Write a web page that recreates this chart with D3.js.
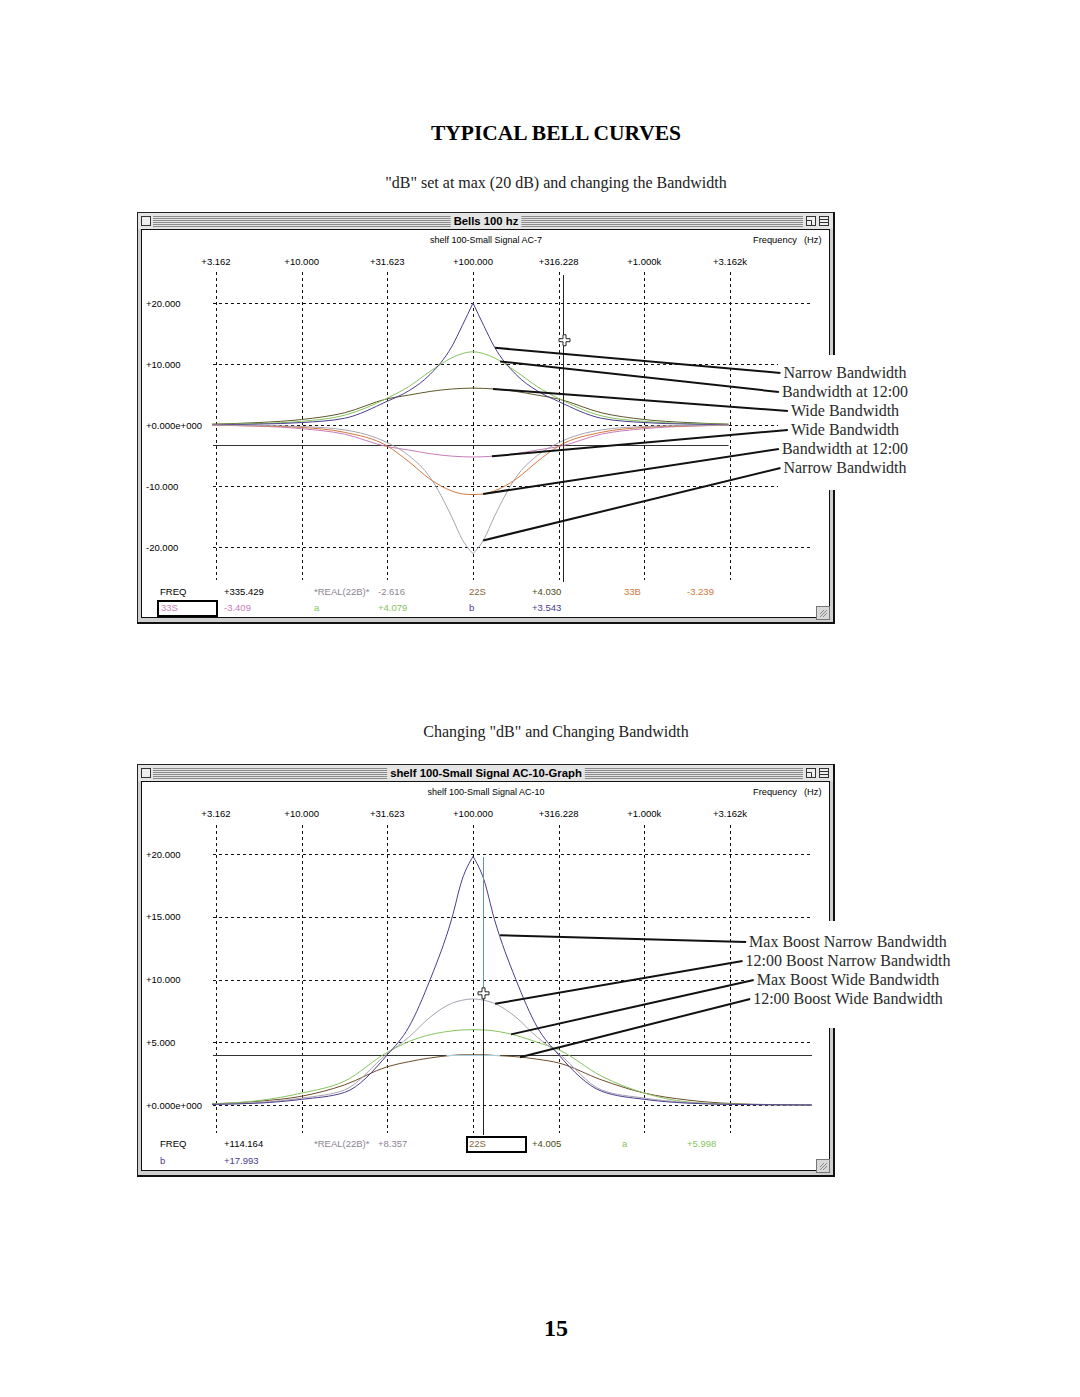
<!DOCTYPE html>
<html><head><meta charset="utf-8">
<script src="https://cdn.jsdelivr.net/npm/d3@7"></script>
<style>body{margin:0;background:#fff} svg{display:block}</style>
</head><body>
<svg id="c" width="1080" height="1397"></svg>
<script>
// ---------------- DATA ----------------
const pageTitle = "TYPICAL BELL CURVES";
const topCaption = "\"dB\" set at max (20 dB) and changing the Bandwidth";
const botCaption = "Changing \"dB\" and Changing Bandwidth";
const pageNumber = "15";

const tickFreqs = [3.162, 10, 31.623, 100, 316.228, 1000, 3162.278];
const tickLabels = ["+3.162", "+10.000", "+31.623", "+100.000", "+316.228", "+1.000k", "+3.162k"];

const topDbTicks = [20, 10, 0, -10, -20];
const topDbLabels = ["+20.000", "+10.000", "+0.000e+000", "-10.000", "-20.000"];
const botDbTicks = [20, 15, 10, 5, 0];
const botDbLabels = ["+20.000", "+15.000", "+10.000", "+5.000", "+0.000e+000"];

// top chart: frequencies (Hz) and dB values
const topFreqs = [3.0, 5.623, 10, 17.78, 31.62, 42.17, 56.23, 74.99, 86.60, 100, 115.48, 133.35, 177.83, 237.14, 316.23, 562.34, 1000, 1778.28, 3100];
const topNarrowBoost = [0.05, 0.15, 0.4, 1.1, 3.9, 5.6, 8.3, 12.8, 16.3, 20.0, 16.3, 12.8, 8.3, 5.6, 3.85, 1.1, 0.4, 0.15, 0.05];
const topMidBoost    = [0.1, 0.25, 0.6, 1.6, 4.4, 6.3, 8.8, 11.0, 11.7, 12.0, 11.7, 11.0, 8.8, 6.3, 4.35, 1.5, 0.6, 0.25, 0.1];
const topWideBoost   = [0.15, 0.4, 0.9, 2.0, 4.3, 4.9, 5.5, 5.9, 6.0, 6.05, 6.0, 5.9, 5.5, 4.9, 4.25, 2.0, 0.9, 0.4, 0.15];
const topWideCut     = [-0.05, -0.2, -0.6, -1.5, -3.55, -4.1, -4.7, -5.1, -5.2, -5.25, -5.2, -5.1, -4.7, -4.1, -3.55, -1.5, -0.6, -0.2, -0.05];
const topMidCut      = [-0.05, -0.15, -0.4, -1.2, -3.45, -6.0, -8.9, -10.8, -11.3, -11.4, -11.3, -10.8, -8.9, -6.0, -3.45, -1.2, -0.4, -0.15, -0.05];
const topNarrowCut   = [-0.02, -0.08, -0.25, -0.8, -2.9, -5.0, -8.6, -15.0, -18.8, -21.1, -18.8, -15.0, -8.6, -5.0, -2.9, -0.8, -0.25, -0.08, -0.02];

// bottom chart
const botFreqs = [3.0, 5.623, 10, 17.78, 31.62, 42.17, 56.23, 74.99, 86.60, 100, 115.48, 133.35, 177.83, 237.14, 316.23, 562.34, 1000, 1778.28, 3162.28, 5623.4, 9500];
const botMaxNarrow = [0.05, 0.15, 0.45, 1.0, 4.0, 6.2, 10.0, 14.8, 18.0, 19.8, 18.0, 14.8, 10.0, 6.2, 4.0, 1.1, 0.45, 0.15, 0.05, 0.02, 0.0];
const botMidNarrow = [0.05, 0.2, 0.55, 1.2, 4.1, 5.4, 7.0, 8.1, 8.35, 8.45, 8.35, 8.1, 7.0, 5.4, 4.1, 1.2, 0.55, 0.2, 0.05, 0.02, 0.0];
const botMaxWide   = [0.1, 0.35, 0.95, 1.9, 4.2, 5.05, 5.6, 5.9, 5.98, 6.0, 5.98, 5.9, 5.55, 5.0, 4.4, 2.3, 0.95, 0.25, 0.08, 0.02, 0.0];
const botMidWide   = [0.08, 0.3, 0.7, 1.6, 3.05, 3.45, 3.75, 3.95, 4.0, 4.0, 4.0, 3.95, 3.85, 3.65, 3.35, 2.0, 0.95, 0.4, 0.12, 0.03, 0.0];

// cursors / pointer
const topCursorFreq = 335.429, topCursorDb = -3.239, topPointerDb = 13.9;
const botCursorFreq = 114.164, botCursorDb = 4.005, botPointerDb = 8.9;
const botHighlightFreqs = [70, 144];

// readouts
const topReadRow1 = ["FREQ", "+335.429", "*REAL(22B)*", "-2.616", "22S", "+4.030", "33B", "-3.239"];
const topReadRow2 = ["33S", "-3.409", "a", "+4.079", "b", "+3.543"];
const botReadRow1 = ["FREQ", "+114.164", "*REAL(22B)*", "+8.357", "22S", "+4.005", "a", "+5.998"];
const botReadRow2 = ["b", "+17.993"];

// annotation labels
const topLabels = ["Narrow Bandwidth", "Bandwidth at 12:00", "Wide Bandwidth", "Wide Bandwidth", "Bandwidth at 12:00", "Narrow Bandwidth"];
const topAnchorFreqs = [134.6, 143.9, 131, 129, 114.6, 114.6];
const botLabels = ["Max Boost Narrow Bandwidth", "12:00 Boost Narrow Bandwidth", "Max Boost Wide Bandwidth", "12:00 Boost Wide Bandwidth"];
const botAnchorFreqs = [143.9, 134.6, 166.7, 188];

// ---------------- STYLE ----------------
const C = {
  purple: "#4b3c8e", green: "#86c45e", olive: "#5e5828", pink: "#c77db8",
  orange: "#d2773a", gray: "#aaa2b0", brown: "#6e4d2c", lightblue: "#a9cfdc",
  readGray: "#8c8494", readBrown: "#86663a", readOlive: "#4a4a14"
};
const UI = "'Liberation Sans', Arial, sans-serif";
const SERIF = "'Liberation Serif', 'Times New Roman', serif";
const UIS = "9.5px";

const svg = d3.select("#c");

// page texts
svg.append("text").attr("x", 556).attr("y", 140).attr("text-anchor", "middle")
  .style("font-family", SERIF).style("font-weight", "bold").style("font-size", "21.5px").text(pageTitle);
svg.append("text").attr("x", 556).attr("y", 188).attr("text-anchor", "middle")
  .style("font-family", SERIF).style("font-size", "16px").attr("fill", "#222").text(topCaption);
svg.append("text").attr("x", 556).attr("y", 737).attr("text-anchor", "middle")
  .style("font-family", SERIF).style("font-size", "16px").attr("fill", "#222").text(botCaption);
svg.append("text").attr("x", 556).attr("y", 1336).attr("text-anchor", "middle")
  .style("font-family", SERIF).style("font-weight", "bold").style("font-size", "24px").text(pageNumber);

const x = d3.scaleLog().domain([3.162278, 3162.278]).range([216, 730]);
const gridX0 = 213, gridX1 = 810;

function drawWindow(y0, y1, title, subtitle) {
  const g = svg.append("g");
  const x0 = 137, x1 = 835;
  g.append("rect").attr("x", x0).attr("y", y0).attr("width", x1 - x0).attr("height", y1 - y0).attr("fill", "#cfcfcf");
  g.append("rect").attr("x", x0 + 1).attr("y", y0 + 1).attr("width", x1 - x0 - 2).attr("height", 16).attr("fill", "#e4e4e4");
  for (let i = 0; i < 6; i++) {
    g.append("line").attr("x1", 153).attr("x2", 803).attr("y1", y0 + 4.5 + i * 2).attr("y2", y0 + 4.5 + i * 2)
      .attr("stroke", "#8a8a8a").attr("stroke-width", 1);
  }
  const t = g.append("text").attr("x", 486).attr("y", y0 + 13).attr("text-anchor", "middle")
    .style("font-family", UI).style("font-weight", "bold").style("font-size", "11.3px").text(title);
  const tw = t.node().getComputedTextLength();
  g.insert("rect", "text").attr("x", 486 - tw / 2 - 3).attr("y", y0 + 2).attr("width", tw + 6).attr("height", 14).attr("fill", "#e4e4e4");
  g.append("rect").attr("x", 141.5).attr("y", y0 + 4.5).attr("width", 9).attr("height", 9).attr("fill", "#eee").attr("stroke", "#333");
  g.append("rect").attr("x", 806.5).attr("y", y0 + 4.5).attr("width", 9).attr("height", 9).attr("fill", "#eee").attr("stroke", "#333");
  g.append("path").attr("d", `M806.5,${y0 + 8.5}h5v5`).attr("fill", "none").attr("stroke", "#333");
  g.append("rect").attr("x", 819.5).attr("y", y0 + 4.5).attr("width", 9).attr("height", 9).attr("fill", "#eee").attr("stroke", "#333");
  g.append("path").attr("d", `M819.5,${y0 + 7.5}h9M819.5,${y0 + 10.5}h9`).attr("fill", "none").attr("stroke", "#333");
  g.append("rect").attr("x", 141.5).attr("y", y0 + 17.5).attr("width", 688).attr("height", y1 - y0 - 24)
    .attr("fill", "#fff").attr("stroke", "#111");
  g.append("rect").attr("x", x0 + 0.5).attr("y", y0 + 0.5).attr("width", x1 - x0 - 1).attr("height", y1 - y0 - 1)
    .attr("fill", "none").attr("stroke", "#222");
  g.append("line").attr("x1", x0).attr("x2", x1).attr("y1", y1 - 1).attr("y2", y1 - 1).attr("stroke", "#111").attr("stroke-width", 2);
  g.append("line").attr("x1", x1 - 1).attr("x2", x1 - 1).attr("y1", y0).attr("y2", y1).attr("stroke", "#111").attr("stroke-width", 2);
  const gy = y1 - 18;
  g.append("rect").attr("x", 816.5).attr("y", gy + 0.5).attr("width", 13).attr("height", 13).attr("fill", "#d8d8d8").attr("stroke", "#777");
  g.append("path").attr("d", `M820,${gy + 11}l7,-7M823,${gy + 11}l4,-4M820,${gy + 8}l4,-4`).attr("stroke", "#888").attr("fill", "none");
  g.append("text").attr("x", 486).attr("y", y0 + 31).attr("text-anchor", "middle")
    .style("font-family", UI).style("font-size", "9px").text(subtitle);
  g.append("text").attr("x", 753).attr("y", y0 + 31).style("font-family", UI).style("font-size", "9.3px").text("Frequency");
  g.append("text").attr("x", 804).attr("y", y0 + 31).style("font-family", UI).style("font-size", "9.3px").text("(Hz)");
  return g;
}

function interp(freqs, vals, f) {
  const lf = Math.log10(f);
  for (let i = 0; i < freqs.length - 1; i++) {
    const a = Math.log10(freqs[i]), b = Math.log10(freqs[i + 1]);
    if (lf >= a && lf <= b) { const t = (lf - a) / (b - a); return vals[i] + t * (vals[i + 1] - vals[i]); }
  }
  return vals[vals.length - 1];
}

function drawGrid(g, y, dbTicks, dbLabels, vTop, vBot, tickLabelY) {
  g.selectAll(null).data(tickFreqs).enter().append("line")
    .attr("x1", d => Math.round(x(d)) + 0.5).attr("x2", d => Math.round(x(d)) + 0.5)
    .attr("y1", vTop).attr("y2", vBot).attr("stroke", "#111").attr("stroke-dasharray", "3,3");
  g.selectAll(null).data(dbTicks).enter().append("line")
    .attr("x1", gridX0).attr("x2", gridX1)
    .attr("y1", d => Math.round(y(d)) + 0.5).attr("y2", d => Math.round(y(d)) + 0.5)
    .attr("stroke", "#111").attr("stroke-dasharray", "3,3");
  g.selectAll(null).data(tickFreqs).enter().append("text")
    .attr("x", d => x(d)).attr("y", tickLabelY).attr("text-anchor", "middle")
    .style("font-family", UI).style("font-size", UIS).text((d, i) => tickLabels[i]);
  g.selectAll(null).data(dbTicks).enter().append("text")
    .attr("x", 146).attr("y", d => y(d) + 3.5).style("font-family", UI).style("font-size", UIS)
    .text((d, i) => dbLabels[i]);
}

// smooth curve; narrow curves are split at the extremum so the tip stays pointed
function drawCurve(g, freqs, vals, y, color, pointed) {
  const pts = freqs.map((f, i) => [f, vals[i]]);
  const line = d3.line().x(d => x(d[0])).y(d => y(d[1])).curve(d3.curveMonotoneX);
  let parts = [pts];
  if (pointed) {
    let k = 0;
    vals.forEach((v, i) => { if (Math.abs(v) > Math.abs(vals[k])) k = i; });
    parts = [pts.slice(0, k + 1), pts.slice(k)];
  }
  parts.forEach(p => g.append("path").datum(p).attr("d", line)
    .attr("fill", "none").attr("stroke", color).attr("stroke-width", 1));
}

function crosshair(g, cx, cy) {
  g.append("path").attr("transform", `translate(${cx},${cy})`)
    .attr("d", "M-1.5,-5.5h3v4h4v3h-4v4h-3v-4h-4v-3h4z")
    .attr("fill", "#fff").attr("stroke", "#222").attr("stroke-width", 1);
}

function readouts(g, rows, colors, cols, rowY, box) {
  rows.forEach((row, r) => row.forEach((txt, i) => {
    g.append("text").attr("x", cols[r][i]).attr("y", rowY[r]).style("font-family", UI).style("font-size", UIS)
      .attr("fill", colors[r][i]).text(txt);
  }));
  if (box) g.append("rect").attr("x", box[0]).attr("y", box[1]).attr("width", box[2]).attr("height", box[3])
    .attr("fill", "none").attr("stroke", "#000").attr("stroke-width", 2);
}

function annotations(g, labels, centers, cx, anchors, coverRect) {
  g.append("rect").attr("x", coverRect[0]).attr("y", coverRect[1]).attr("width", coverRect[2]).attr("height", coverRect[3]).attr("fill", "#fff");
  labels.forEach((lab, i) => {
    const t = g.append("text").attr("x", cx).attr("y", centers[i] + 5).attr("text-anchor", "middle")
      .style("font-family", SERIF).style("font-size", "16px").attr("fill", "#2a2a2a").text(lab);
    const w = t.node().getComputedTextLength();
    const a = anchors[i];
    g.append("line").attr("x1", a[0]).attr("y1", a[1]).attr("x2", cx - w / 2 - 3).attr("y2", centers[i])
      .attr("stroke", "#111").attr("stroke-width", 2);
  });
}

// ---------------- TOP CHART ----------------
{
  const g = drawWindow(212, 624, "Bells 100 hz", "shelf 100-Small Signal AC-7");
  const y = d3.scaleLinear().domain([-20, 20]).range([547, 303]);
  drawGrid(g, y, topDbTicks, topDbLabels, 272, 580, 265);
  g.append("line").attr("x1", gridX0).attr("x2", x(3100)).attr("y1", Math.round(y(topCursorDb)) + 0.5).attr("y2", Math.round(y(topCursorDb)) + 0.5)
    .attr("stroke", "#333");
  const series = [
    [topWideBoost, C.olive, false], [topMidBoost, C.green, false], [topNarrowBoost, C.purple, true],
    [topWideCut, C.pink, false], [topMidCut, C.orange, false], [topNarrowCut, C.gray, true]
  ];
  series.forEach(s => drawCurve(g, topFreqs, s[0], y, s[1], s[2]));
  const cx = Math.round(x(topCursorFreq)) + 0.5;
  g.append("line").attr("x1", cx).attr("x2", cx).attr("y1", 275).attr("y2", 582).attr("stroke", "#222");
  crosshair(g, cx + 1, y(topPointerDb));
  readouts(g, [topReadRow1, topReadRow2],
    [["#000", "#000", C.readGray, C.readGray, C.readBrown, C.readOlive, C.orange, C.orange],
     [C.pink, C.pink, C.green, C.green, C.purple, C.purple]],
    [[160, 224, 314, 378, 469, 532, 624, 687], [161, 224, 314, 378, 469, 532]],
    [595, 611], [158, 601, 59, 15]);
  const anchorsVals = [topNarrowBoost, topMidBoost, topWideBoost, topWideCut, topMidCut, topNarrowCut];
  const anchors = topAnchorFreqs.map((f, i) => [x(f), y(interp(topFreqs, anchorsVals[i], f))]);
  annotations(g, topLabels, [373, 392, 411, 430, 449, 468], 845, anchors, [778, 355, 138, 135]);
}

// ---------------- BOTTOM CHART ----------------
{
  const g = drawWindow(764, 1177, "shelf 100-Small Signal AC-10-Graph", "shelf 100-Small Signal AC-10");
  const y = d3.scaleLinear().domain([0, 20]).range([1105, 854]);
  drawGrid(g, y, botDbTicks, botDbLabels, 825, 1133, 817);
  const hy = Math.round(y(botCursorDb)) + 0.5;
  g.append("line").attr("x1", gridX0).attr("x2", 812).attr("y1", hy).attr("y2", hy).attr("stroke", "#333");
  const series = [
    [botMidWide, C.brown, false], [botMaxWide, C.green, false], [botMidNarrow, C.gray, false], [botMaxNarrow, C.purple, true]
  ];
  series.forEach(s => drawCurve(g, botFreqs, s[0], y, s[1], s[2]));
  g.append("line").attr("x1", x(botHighlightFreqs[0])).attr("x2", x(botHighlightFreqs[1])).attr("y1", hy).attr("y2", hy)
    .attr("stroke", C.lightblue).attr("stroke-width", 1.2);
  const cx = Math.round(x(botCursorFreq)) + 0.5;
  const py = y(botPointerDb);
  g.append("line").attr("x1", cx).attr("x2", cx).attr("y1", 857).attr("y2", py).attr("stroke", "#5b9aa3");
  g.append("line").attr("x1", cx).attr("x2", cx).attr("y1", py).attr("y2", 1135).attr("stroke", "#222");
  crosshair(g, cx, py);
  readouts(g, [botReadRow1, botReadRow2],
    [["#000", "#000", C.readGray, C.readGray, C.readBrown, C.readOlive, C.green, C.green],
     [C.purple, C.purple]],
    [[160, 224, 314, 378, 469, 532, 622, 687], [160, 224]],
    [1147, 1164], [467, 1137, 59, 15]);
  const anchorsVals = [botMaxNarrow, botMidNarrow, botMaxWide, botMidWide];
  const anchors = botAnchorFreqs.map((f, i) => [x(f), y(interp(botFreqs, anchorsVals[i], f))]);
  annotations(g, botLabels, [942, 961, 980, 999], 848, anchors, [745, 921, 215, 107]);
}
</script>
</body></html>
